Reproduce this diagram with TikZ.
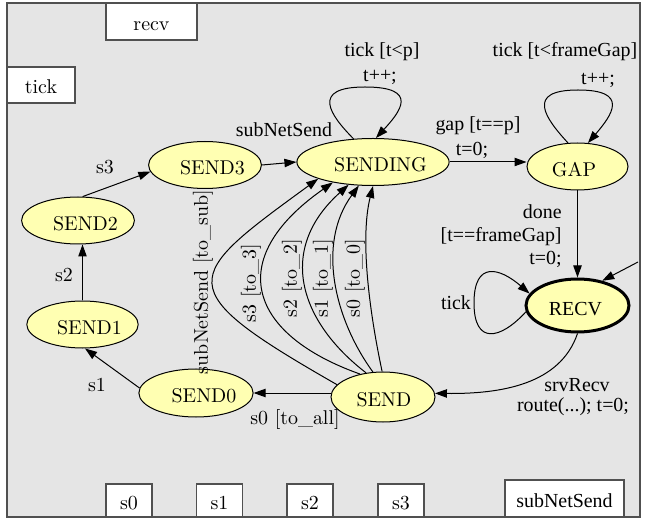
\documentclass[tikz,border=0pt]{standalone}
\usepackage{fontspec}
\newfontfamily\tms{Liberation Serif}
\usetikzlibrary{shapes.geometric,arrows.meta}
\definecolor{bg}{RGB}{229,229,229}
\definecolor{stfill}{RGB}{255,255,178}
\definecolor{framec}{RGB}{80,80,80}
\begin{document}
\begin{tikzpicture}[x=0.5bp,y=-0.5bp,font=\fontsize{10}{12}\selectfont,
  st/.style={ellipse,draw=black,line width=0.5bp,fill=stfill,inner sep=0pt,text height=9.8pt,text depth=0pt},
  box/.style={rectangle,draw=framec,line width=0.6bp,fill=white,inner sep=0pt,text height=9pt,text depth=0pt},
  tr/.style={line width=0.5bp,-{Triangle[length=6bp,width=4.2bp]}},
  lb/.style={inner sep=0pt},
  tl/.style={inner sep=0pt,font=\tms\fontsize{10}{11.5}\selectfont}]
\useasboundingbox (0,0) rectangle (645,518);
\fill[bg,draw=framec,line width=0.8bp] (7,3) rectangle (640,517);
% boxes
\node[box,minimum width=45.5bp,minimum height=18.5bp] (recvbox) at (151.5,21.5) {recv};
\node[box,minimum width=34bp,minimum height=18bp] (tickbox) at (41,85) {tick};
\node[box,minimum width=23bp,minimum height=16.5bp] (s0box) at (129,500.5) {s0};
\node[box,minimum width=23bp,minimum height=16.5bp] (s1box) at (219.5,500.5) {s1};
\node[box,minimum width=23bp,minimum height=16.5bp] (s2box) at (310,500.5) {s2};
\node[box,minimum width=23bp,minimum height=16.5bp] (s3box) at (401,500.5) {s3};
\node[box,minimum width=59.5bp,minimum height=18.5bp,font=\tms] (subbox) at (564.5,498.5) {subNetSend};
% states
\node[st,minimum width=51bp,minimum height=23.5bp] (SEND3) at (205,165) {\hspace*{7.5bp}SEND3};
\node[st,minimum width=58bp,minimum height=23.5bp] (SENDING) at (373,162) {\hspace*{7.5bp}SENDING};
\node[st,minimum width=50.5bp,minimum height=23.5bp] (GAP) at (577.5,166.5) {GAP\hspace*{3.5bp}};
\node[st,minimum width=51.5bp,minimum height=26.5bp,line width=1.5bp,font=\tms] (RECV) at (577.5,305.5) {RECV\hspace*{2bp}};
\node[st,minimum width=51bp,minimum height=23.5bp] (SEND2) at (78,220.5) {\hspace*{7.5bp}SEND2};
\node[st,minimum width=50.5bp,minimum height=23.5bp] (SEND1) at (82.5,324.5) {\hspace*{7bp}SEND1};
\node[st,minimum width=51bp,minimum height=24bp] (SEND0) at (196,393) {\hspace*{8bp}SEND0};
\node[st,minimum width=52bp,minimum height=25bp] (SEND) at (383,397) {\hspace*{1bp}SEND};
\coordinate (init) at (638,262);
% edges
\draw[tr] (SEND2.79) -- (SEND3.187);
\draw[tr] (SEND1.north) -- (SEND1.north |- SEND2.south);
\draw[tr] (SEND0.175) -- (SEND1.276);
\draw[tr] (SEND0.east -| SEND.west) -- (SEND0.east);
\draw[tr] (SEND3.east) -- (SENDING.west);
\draw[tr] (SENDING.east) -- (SENDING.east -| GAP.west);
\draw[tr] (GAP.south) -- (RECV.north);
\draw[tr] (init) -- (RECV.45);
\draw[tr] (SEND.165) .. controls (168,288) and (182,278) .. (SENDING.197);
\draw[tr] (SEND.135) .. controls (250,335) and (222,260) .. (SENDING.207);
\draw[tr] (SEND.125) .. controls (300,322) and (276,250) .. (SENDING.223);
\draw[tr] (SEND.112) .. controls (335,320) and (316,244) .. (SENDING.239);
\draw[tr] (SEND.92) .. controls (369,310) and (360,238) .. (SENDING.270);
\draw[tr] (SENDING.130) .. controls (330,115) and (310,87) .. (365,87) .. controls (420,87) and (400,112) .. (SENDING.83);
\draw[tr] (GAP.112) .. controls (545,118) and (525,90) .. (578,90) .. controls (630,90) and (612,115) .. (GAP.66);
\draw[tr] (RECV.187) .. controls (500,340) and (474,345) .. (474,303) .. controls (474,260) and (500,268) .. (RECV.166);
\draw[tr] (RECV.south) .. controls (560,385) and (500,394) .. (SEND.4);
% labels
\node[lb] (l1) at (105,167) {s3};
\node[lb] (l2) at (64,275) {s2};
\node[lb] (l3) at (97,385) {s1};
\node[lb] (l4) at (295,420) {s0 [to\_all]};
\node[lb,rotate=90] (l5) at (203,282) {subNetSend [to\_sub]};
\node[lb,rotate=90] (l6) at (251,283) {s3 [to\_3]};
\node[lb,rotate=90] (l7) at (292,278) {s2 [to\_2]};
\node[lb,rotate=90] (l8) at (323,278) {s1 [to\_1]};
\node[lb,rotate=90] (l9) at (355,278) {s0 [to\_0]};
\node[tl] (l10) at (284,130) {subNetSend};
\node[tl] (l11) at (382,52) {tick [t<p]};
\node[tl] (l12) at (380,77) {t++;};
\node[tl] (l13) at (478,126) {gap [t==p]};
\node[tl] (l14) at (472,150) {t=0;};
\node[tl] (l15) at (565,52) {tick [t<frameGap]};
\node[tl] (l16) at (598,80) {t++;};
\node[tl,align=right,anchor=east] (l17) at (562,236) {done\\{}[t==frameGap]\\t=0;};
\node[tl] (l18) at (456,303) {tick};
\node[tl] (l19) at (577,385) {srvRecv};
\node[tl] (l20) at (573,407) {route(...); t=0;};
\end{tikzpicture}
\end{document}
